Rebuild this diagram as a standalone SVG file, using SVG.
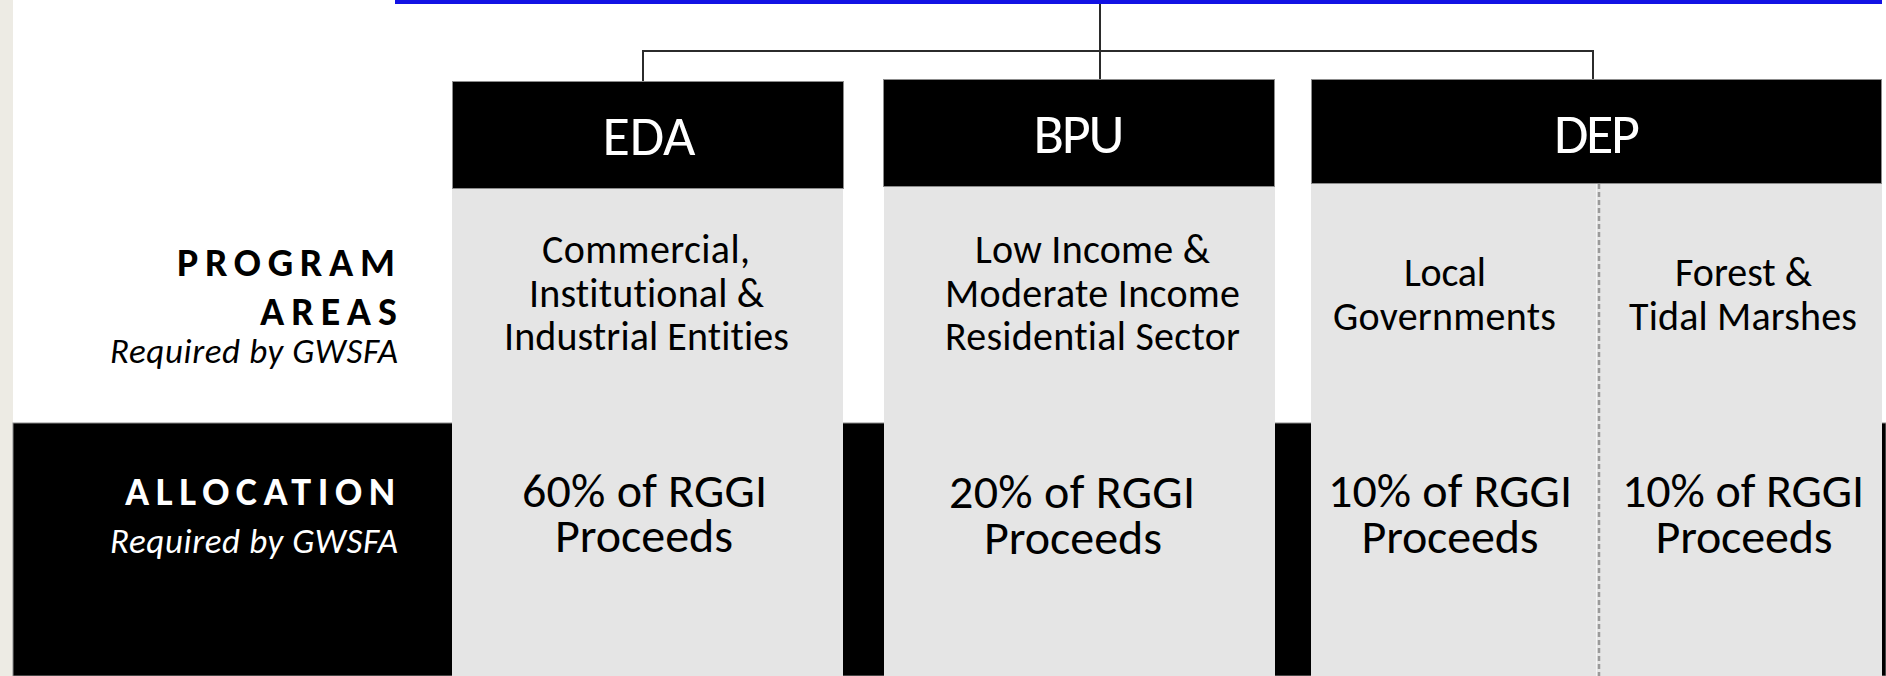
<svg xmlns="http://www.w3.org/2000/svg" width="1886" height="676" viewBox="0 0 1886 676">
<style>
text{font-variant-ligatures:none}
.hdr{fill:#000;stroke:#8c8c8c;stroke-width:1}
.col{fill:#e5e5e5}
.ht{font-family:Carlito,Calibri,Lato,"Liberation Sans",sans-serif;font-size:56px;fill:#fff;text-anchor:middle}
.pt{font-family:Carlito,Calibri,Lato,"Liberation Sans",sans-serif;font-size:40px;fill:#000;text-anchor:middle}
.at{font-family:Carlito,Calibri,Lato,"Liberation Sans",sans-serif;font-size:48px;fill:#000;text-anchor:middle}
.lb{font-family:Carlito,Calibri,Lato,"Liberation Sans",sans-serif;font-size:40px;font-weight:bold}
.li{font-family:Carlito,Calibri,Lato,"Liberation Sans",sans-serif;font-size:35px;font-style:italic}
.conn{fill:none;stroke:#2b2b2b;stroke-width:2}
</style>
<rect x="0" y="0" width="1886" height="676" fill="#fff"/>
<rect x="0" y="0" width="13" height="676" fill="#edebe4"/>
<rect x="395" y="0" width="1487" height="4" fill="#1212e4"/>
<g id="allocation-band">
<rect x="13" y="423" width="1873" height="253" fill="#000" stroke="#8c8c8c" stroke-width="1"/>
</g>
<g id="connectors">
<path class="conn" d="M1100 4 V79"/>
<path class="conn" d="M643 81 V51 H1593 V79"/>
</g>
<g id="row-labels">
<text class="lb" x="177" y="276" textLength="218" lengthAdjust="spacing" fill="#000">PROGRAM</text>
<text class="lb" x="260" y="325" textLength="137" lengthAdjust="spacing" fill="#000">AREAS</text>
<text class="li" x="110" y="363" textLength="288" lengthAdjust="spacing" fill="#000">Required by GWSFA</text>
<text class="lb" x="125" y="505" textLength="270" lengthAdjust="spacing" fill="#fff">ALLOCATION</text>
<text class="li" x="110" y="553" textLength="288" lengthAdjust="spacing" fill="#fff">Required by GWSFA</text>
</g>
<g id="eda">
<rect class="col" x="452" y="188" width="391" height="488"/>
<rect class="hdr" x="452.5" y="81.5" width="391" height="107"/>
<text class="ht" x="649" y="155" textLength="93" lengthAdjust="spacing">EDA</text>
<text class="pt" x="646" y="263" textLength="208" lengthAdjust="spacing">Commercial,</text>
<text class="pt" x="646.5" y="307" textLength="235" lengthAdjust="spacing">Institutional &amp;</text>
<text class="pt" x="646.5" y="350" textLength="285" lengthAdjust="spacing">Industrial Entities</text>
<text class="at" x="644.5" y="507" textLength="245" lengthAdjust="spacing">60% of RGGI</text>
<text class="at" x="644" y="552" textLength="178" lengthAdjust="spacing">Proceeds</text>
</g>
<g id="bpu">
<rect class="col" x="884" y="186" width="391" height="490"/>
<rect class="hdr" x="883.5" y="79.5" width="391" height="107"/>
<text class="ht" x="1079" y="153" textLength="91" lengthAdjust="spacing">BPU</text>
<text class="pt" x="1092.5" y="263" textLength="235" lengthAdjust="spacing">Low Income &amp;</text>
<text class="pt" x="1092.5" y="307" textLength="295" lengthAdjust="spacing">Moderate Income</text>
<text class="pt" x="1092.5" y="350" textLength="295" lengthAdjust="spacing">Residential Sector</text>
<text class="at" x="1072" y="508" textLength="246" lengthAdjust="spacing">20% of RGGI</text>
<text class="at" x="1073" y="554" textLength="178" lengthAdjust="spacing">Proceeds</text>
</g>
<g id="dep">
<rect class="col" x="1311" y="183" width="571" height="493"/>
<rect class="hdr" x="1311.5" y="79.5" width="570" height="104"/>
<text class="ht" x="1597" y="153" textLength="86" lengthAdjust="spacing">DEP</text>
<line x1="1596.5" y1="184" x2="1596.5" y2="676" stroke="#f4f4f4" stroke-width="1"/>
<line x1="1599" y1="184" x2="1599" y2="676" stroke="#9a9a9a" stroke-width="2.5" stroke-dasharray="5 3"/>
</g>
<g id="dep-local">
<text class="pt" x="1445" y="286" textLength="82" lengthAdjust="spacing">Local</text>
<text class="pt" x="1444.5" y="330" textLength="223" lengthAdjust="spacing">Governments</text>
<text class="at" x="1450" y="507" textLength="244" lengthAdjust="spacing">10% of RGGI</text>
<text class="at" x="1450" y="553" textLength="177" lengthAdjust="spacing">Proceeds</text>
</g>
<g id="dep-forest">
<text class="pt" x="1743.5" y="286" textLength="137" lengthAdjust="spacing">Forest &amp;</text>
<text class="pt" x="1743" y="330" textLength="228" lengthAdjust="spacing">Tidal Marshes</text>
<text class="at" x="1743" y="507" textLength="242" lengthAdjust="spacing">10% of RGGI</text>
<text class="at" x="1744" y="553" textLength="177" lengthAdjust="spacing">Proceeds</text>
</g>
</svg>
